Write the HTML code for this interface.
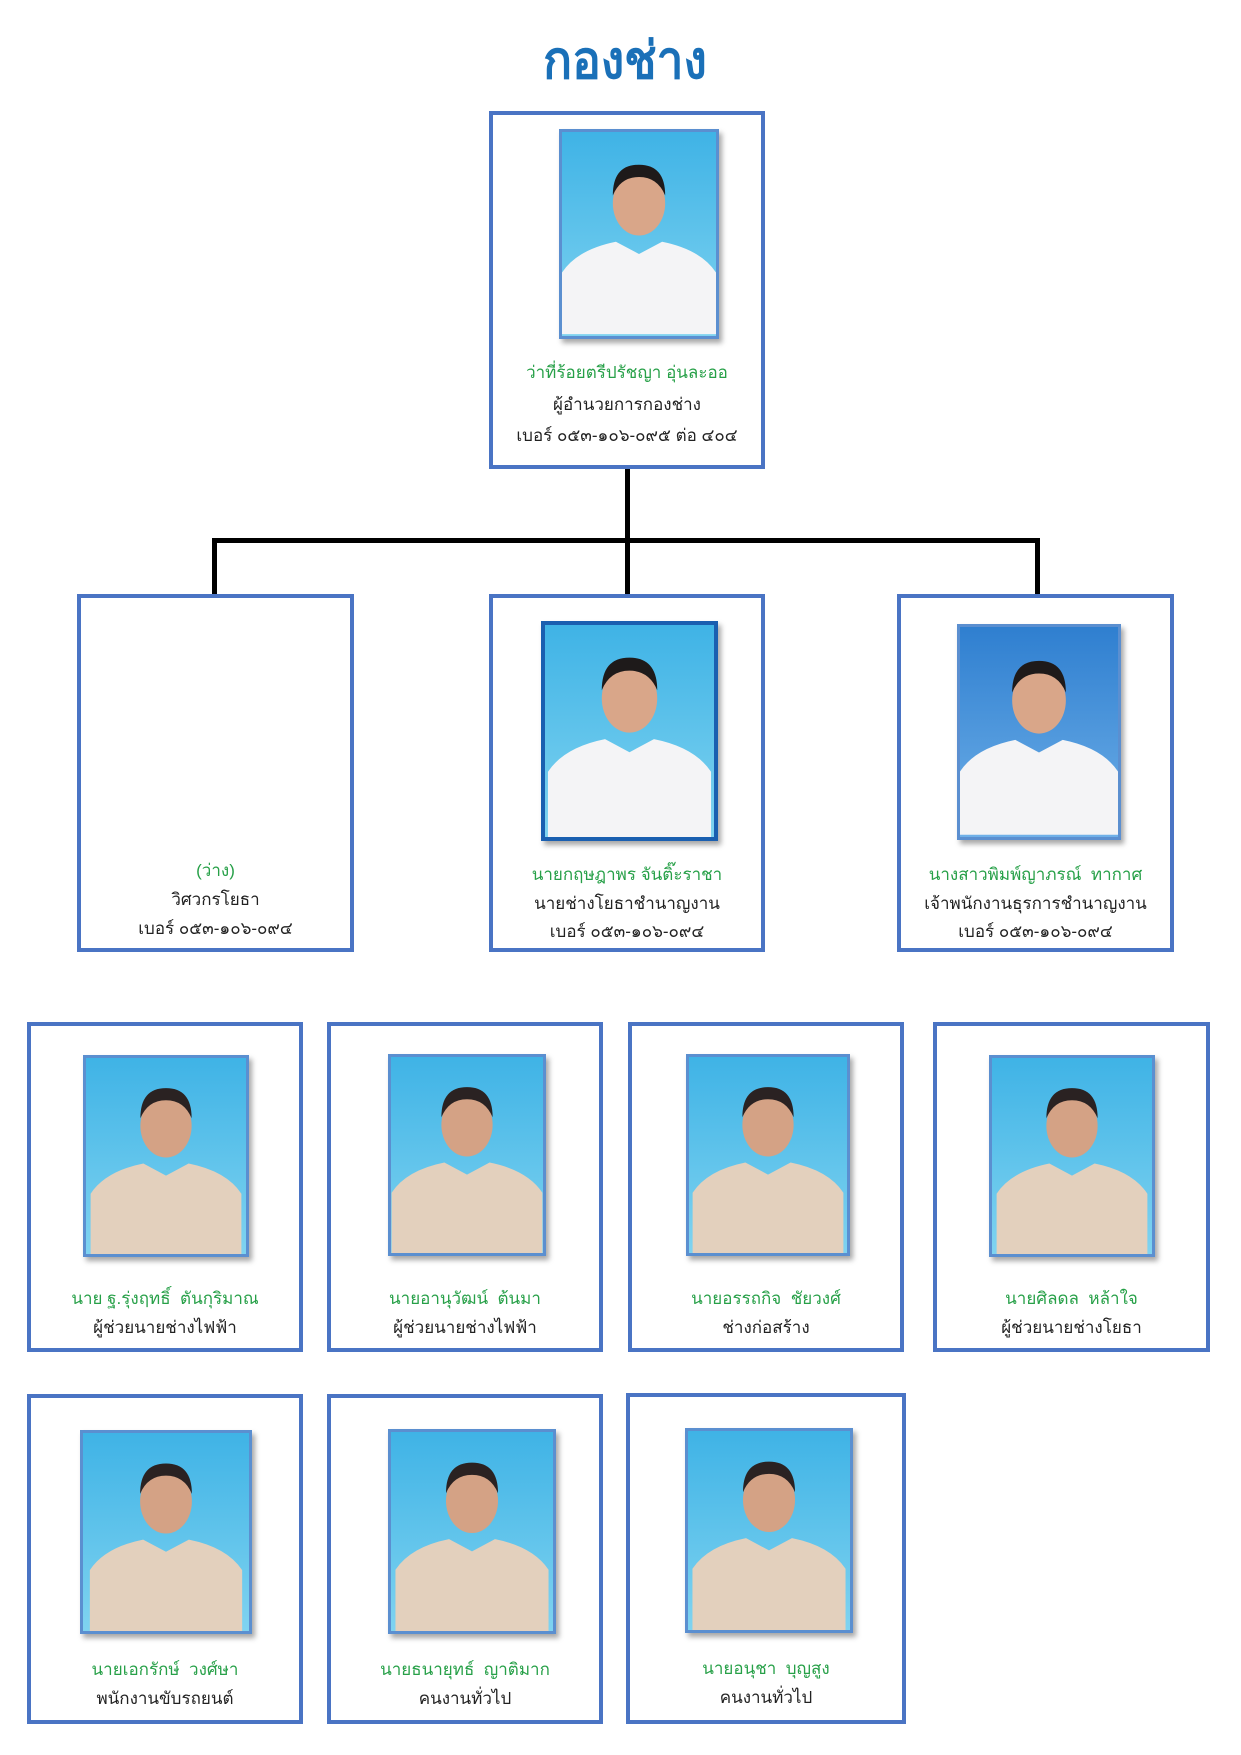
<!DOCTYPE html>
<html><head><meta charset="utf-8">
<style>
body{margin:0;background:#fff;width:1241px;height:1755px;position:relative;overflow:hidden;font-family:"Liberation Sans","DejaVu Sans",sans-serif}
.box{position:absolute;border:4px solid #4a74c4;box-sizing:border-box;background:#fff}
.ph{position:absolute;box-sizing:border-box;border:3px solid #5b8fd0;overflow:hidden;background:linear-gradient(180deg,#3fb3e6,#7fd3f0);box-shadow:3px 4px 5px rgba(0,0,0,.35)}
.ph svg{width:100%;height:100%;display:block}
.t{position:absolute;width:100%;text-align:center;left:0;font-size:17px;color:#222;white-space:nowrap}
.n{color:#27a048}
.line{position:absolute;background:#000}
</style></head><body>
<div style="position:absolute;left:0;width:1250px;top:18px;text-align:center;font-size:52px;font-weight:bold;color:#1a70b8;transform:scaleX(0.92)">กองช่าง</div>

<div class="line" style="left:625px;top:469px;width:5px;height:128px"></div>
<div class="line" style="left:212px;top:538px;width:828px;height:5px"></div>
<div class="line" style="left:212px;top:538px;width:5px;height:59px"></div>
<div class="line" style="left:1035px;top:538px;width:5px;height:59px"></div>

<svg width="0" height="0" style="position:absolute"><defs>
<symbol id="w" viewBox="0 0 100 130"><path d="M0 130 L0 90 Q10 75 35 70 L50 78 L65 70 Q90 75 100 90 L100 130Z" fill="#f4f4f6"/><ellipse cx="50" cy="45" rx="17" ry="21" fill="#d9a689"/><path d="M33 40 Q33 20 50 20 Q67 20 67 40 Q62 28 50 28 Q38 28 33 40Z" fill="#1e1a1a"/></symbol>
<symbol id="k" viewBox="0 0 100 130"><path d="M0 130 L0 90 Q10 75 35 70 L50 78 L65 70 Q90 75 100 90 L100 130Z" fill="#e3d0bd"/><ellipse cx="50" cy="45" rx="17" ry="21" fill="#d4a285"/><path d="M33 40 Q33 20 50 20 Q67 20 67 40 Q62 28 50 28 Q38 28 33 40Z" fill="#2a2222"/></symbol>
</defs></svg>

<div class="box" style="left:489px;top:111px;width:276px;height:358px">
 <div class="ph" style="left:66px;top:14px;width:160px;height:210px"><svg><use href="#w"/></svg></div>
 <div class="t n" style="top:244px">ว่าที่ร้อยตรีปรัชญา อุ่นละออ</div>
 <div class="t" style="top:276px">ผู้อำนวยการกองช่าง</div>
 <div class="t" style="top:307px">เบอร์ ๐๕๓-๑๐๖-๐๙๕ ต่อ ๔๐๔</div>
</div>

<div class="box" style="left:77px;top:594px;width:277px;height:358px">
 <div class="t n" style="top:259px">(ว่าง)</div>
 <div class="t" style="top:288px">วิศวกรโยธา</div>
 <div class="t" style="top:317px">เบอร์ ๐๕๓-๑๐๖-๐๙๔</div>
</div>
<div class="box" style="left:489px;top:594px;width:276px;height:358px">
 <div class="ph" style="left:48px;top:23px;width:177px;height:220px;border-color:#1a5fb0;border-width:4px"><svg><use href="#w"/></svg></div>
 <div class="t n" style="top:263px">นายกฤษฎาพร จันติ๊ะราชา</div>
 <div class="t" style="top:292px">นายช่างโยธาชำนาญงาน</div>
 <div class="t" style="top:320px">เบอร์ ๐๕๓-๑๐๖-๐๙๔</div>
</div>
<div class="box" style="left:897px;top:594px;width:277px;height:358px">
 <div class="ph" style="left:56px;top:26px;width:164px;height:216px;background:linear-gradient(180deg,#2f7fd0,#6fb0e8)"><svg><use href="#w"/></svg></div>
 <div class="t n" style="top:263px">นางสาวพิมพ์ญาภรณ์ &nbsp;ทากาศ</div>
 <div class="t" style="top:292px">เจ้าพนักงานธุรการชำนาญงาน</div>
 <div class="t" style="top:320px">เบอร์ ๐๕๓-๑๐๖-๐๙๔</div>
</div>

<div class="box" style="left:27px;top:1022px;width:276px;height:330px">
 <div class="ph" style="left:52px;top:29px;width:166px;height:202px"><svg><use href="#k"/></svg></div>
 <div class="t n" style="top:259px">นาย ฐ.รุ่งฤทธิ์ &nbsp;ตันกุริมาณ</div>
 <div class="t" style="top:288px">ผู้ช่วยนายช่างไฟฟ้า</div>
</div>
<div class="box" style="left:327px;top:1022px;width:276px;height:330px">
 <div class="ph" style="left:57px;top:28px;width:158px;height:202px"><svg><use href="#k"/></svg></div>
 <div class="t n" style="top:259px">นายอานุวัฒน์ &nbsp;ต้นมา</div>
 <div class="t" style="top:288px">ผู้ช่วยนายช่างไฟฟ้า</div>
</div>
<div class="box" style="left:628px;top:1022px;width:276px;height:330px">
 <div class="ph" style="left:54px;top:28px;width:164px;height:202px"><svg><use href="#k"/></svg></div>
 <div class="t n" style="top:259px">นายอรรถกิจ &nbsp;ชัยวงศ์</div>
 <div class="t" style="top:288px">ช่างก่อสร้าง</div>
</div>
<div class="box" style="left:933px;top:1022px;width:277px;height:330px">
 <div class="ph" style="left:52px;top:29px;width:166px;height:202px"><svg><use href="#k"/></svg></div>
 <div class="t n" style="top:259px">นายศิลดล &nbsp;หล้าใจ</div>
 <div class="t" style="top:288px">ผู้ช่วยนายช่างโยธา</div>
</div>

<div class="box" style="left:27px;top:1394px;width:276px;height:330px">
 <div class="ph" style="left:49px;top:32px;width:172px;height:204px"><svg><use href="#k"/></svg></div>
 <div class="t n" style="top:258px">นายเอกรักษ์ &nbsp;วงศ์ษา</div>
 <div class="t" style="top:287px">พนักงานขับรถยนต์</div>
</div>
<div class="box" style="left:327px;top:1394px;width:276px;height:330px">
 <div class="ph" style="left:57px;top:31px;width:168px;height:205px"><svg><use href="#k"/></svg></div>
 <div class="t n" style="top:258px">นายธนายุทธ์ &nbsp;ญาติมาก</div>
 <div class="t" style="top:287px">คนงานทั่วไป</div>
</div>
<div class="box" style="left:626px;top:1393px;width:280px;height:331px">
 <div class="ph" style="left:55px;top:31px;width:168px;height:205px"><svg><use href="#k"/></svg></div>
 <div class="t n" style="top:258px">นายอนุชา &nbsp;บุญสูง</div>
 <div class="t" style="top:287px">คนงานทั่วไป</div>
</div>
</body></html>
